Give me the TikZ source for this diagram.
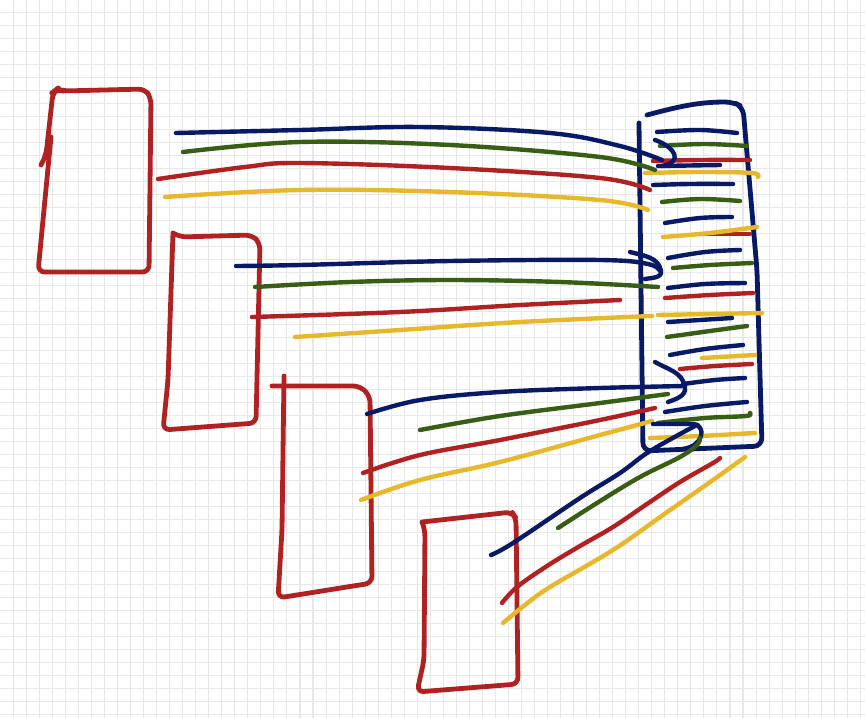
\documentclass[tikz,border=0pt]{standalone}
\usepackage{xcolor}
\definecolor{skred}{RGB}{176,34,34}
\definecolor{sknavy}{RGB}{8,26,102}
\definecolor{skgreen}{RGB}{56,94,22}
\definecolor{skyellow}{RGB}{232,184,44}
\definecolor{skgrid}{RGB}{232,232,232}
\begin{document}
\begin{tikzpicture}[x=0.75pt,y=-0.75pt,line cap=round,line join=round,
  gridline/.style={draw=skgrid,line width=0.8pt},
  boxpen/.style={line width=3.6pt,rounded corners=5pt},
  rd/.style={draw=skred,line width=3.3pt},
  nv/.style={draw=sknavy,line width=3.3pt},
  gn/.style={draw=skgreen,line width=3.3pt},
  yl/.style={draw=skyellow,line width=3.3pt},
  sm/.style={smooth,tension=0.6}]
\useasboundingbox (0,0) rectangle (865,718);
\fill[white] (0,0) rectangle (865,718);
\foreach \i in {1,...,66} \draw[gridline] ({13.03*\i+0.3},0) -- ({13.03*\i+0.3},718);
\foreach \j in {1,...,55} \draw[gridline] (0,{13.0*\j-0.3}) -- (865,{13.0*\j-0.3});

% ---------- red boxes ----------
\draw[rd,boxpen] (41,165) -- (46,155) -- (53,92) -- (57,89) -- (63,91) -- (145,89) -- (151,98) -- (149,272) -- (38,272) -- (51,137);
\draw[rd,boxpen] (173,233) -- (180,237) -- (252,235) -- (260,243) -- (256,423) -- (163,430) -- (168,380) -- (173,233);
\draw[rd,boxpen] (272,386) -- (360,386) -- (370,396) -- (372,583) -- (278,598) -- (282,530) -- (284,376);
\draw[rd,boxpen] (422,522) -- (512,512) -- (516,518) -- (518,684) -- (417,692) -- (424,660) -- (425,530) -- (422,522);

% ---------- navy box ----------
\draw[nv,line width=3.6pt,rounded corners=6pt] (639,123) -- (643,451) -- (762,446) -- (757,270) -- (743,107) -- (733,102) to[out=180,in=15] (647,115);

% ---------- stripes inside the navy box ----------
\draw[nv] plot[sm] coordinates {(657,132) (700,130) (737,133)};
\draw[gn] plot[sm] coordinates {(660,146) (705,144) (747,146)};
\draw[rd] plot[sm] coordinates {(653,161) (700,160) (750,160)};
\draw[nv] (658,166) -- (720,165);
\draw[yl] plot[sm] coordinates {(645,173) (700,172) (752,173) (758,177)};
\draw[nv] plot[sm] coordinates {(653,185) (690,184) (733,184)};
\draw[gn] plot[sm] coordinates {(662,202) (700,199) (740,201)};
\draw[nv] plot[sm] coordinates {(665,223) (700,218) (732,217)};
\draw[rd] (700,234) -- (750,234);
\draw[yl] plot[sm] coordinates {(663,237) (710,233) (757,227)};
\draw[nv] plot[sm] coordinates {(668,258) (705,252) (740,250)};
\draw[gn] plot[sm] coordinates {(673,268) (710,265) (752,263)};
\draw[nv] plot[sm] coordinates {(668,288) (705,284) (745,283)};
\draw[rd] plot[sm] coordinates {(665,298) (710,295) (753,293)};
\draw[yl] plot[sm] coordinates {(658,315) (710,314) (762,313)};
\draw[nv] plot[sm] coordinates {(668,322) (700,320) (732,318)};
\draw[gn] plot[sm] coordinates {(667,337) (710,331) (747,326)};
\draw[nv] plot[sm] coordinates {(670,355) (705,349) (743,345)};
\draw[yl] (702,358) -- (755,355);
\draw[rd] plot[sm] coordinates {(680,369) (715,366) (752,364)};
\draw[nv] plot[sm] coordinates {(683,384) (715,380) (745,378)};
\draw[nv] plot[sm] coordinates {(665,412) (705,406) (747,402)};
\draw[gn] plot[sm] coordinates {(658,423) (705,418) (746,416) (750,413)};
\draw[yl] plot[sm] coordinates {(650,438) (700,436) (755,433)};

% ---------- group 1 (from box 1) ----------
\draw[nv] plot[sm] coordinates {(176,133) (300,130) (420,127) (550,133) (620,146) (662,160)};
\draw[nv] (655,140) .. controls (675,147) and (684,162) .. (662,166);
\draw[gn] plot[sm] coordinates {(183,152) (300,142) (450,145) (600,157) (655,170)};
\draw[rd] plot[sm] coordinates {(158,179) (245,167) (300,163) (450,168) (600,178) (650,190)};
\draw[yl] plot[sm] coordinates {(165,197) (300,190) (450,192) (600,200) (648,210)};

% ---------- group 2 (from box 2) ----------
\draw[nv] plot[sm] coordinates {(236,266) (300,265) (450,261) (600,260) (648,264) (660,271)};
\draw[nv] (630,252) to[out=-15,in=100] (661,271) to[out=-80,in=10] (645,279);
\draw[gn] plot[sm] coordinates {(255,287) (350,282) (450,280) (560,282) (658,287)};
\draw[rd] plot[sm] coordinates {(252,317) (400,312) (520,305) (620,300)};
\draw[yl] plot[sm] coordinates {(295,337) (400,330) (520,322) (652,316)};

% ---------- group 3 (from box 3) ----------
\draw[nv] plot[sm] coordinates {(367,414) (420,400) (500,392) (600,388) (685,386)};
\draw[nv] (655,362) to[out=-30,in=100] (685,387) to[out=-80,in=20] (668,402);
\draw[gn] plot[sm] coordinates {(420,430) (500,416) (600,403) (668,394)};
\draw[rd] plot[sm] coordinates {(363,473) (420,455) (500,440) (600,420) (655,408)};
\draw[yl] plot[sm] coordinates {(361,500) (420,480) (500,462) (600,435) (652,421)};

% ---------- group 4 (from box 4) ----------
\draw[nv] plot[sm] coordinates {(491,555) (513,543) (580,498) (620,473) (647,453) (680,434) (697,425)};
\draw[nv] (653,424) -- (694,424) to[out=0,in=70] (701,436) to[out=-110,in=10] (683,449);
\draw[gn] plot[sm] coordinates {(558,528) (597,503) (640,477) (680,457) (697,445) (700,438)};
\draw[rd] plot[sm] coordinates {(502,603) (517,587) (547,566) (580,546) (613,527) (647,504) (680,482) (713,463) (720,458)};
\draw[yl] plot[sm] coordinates {(503,623) (525,605) (550,587) (613,550) (663,515) (713,480) (745,457)};
\end{tikzpicture}
\end{document}
